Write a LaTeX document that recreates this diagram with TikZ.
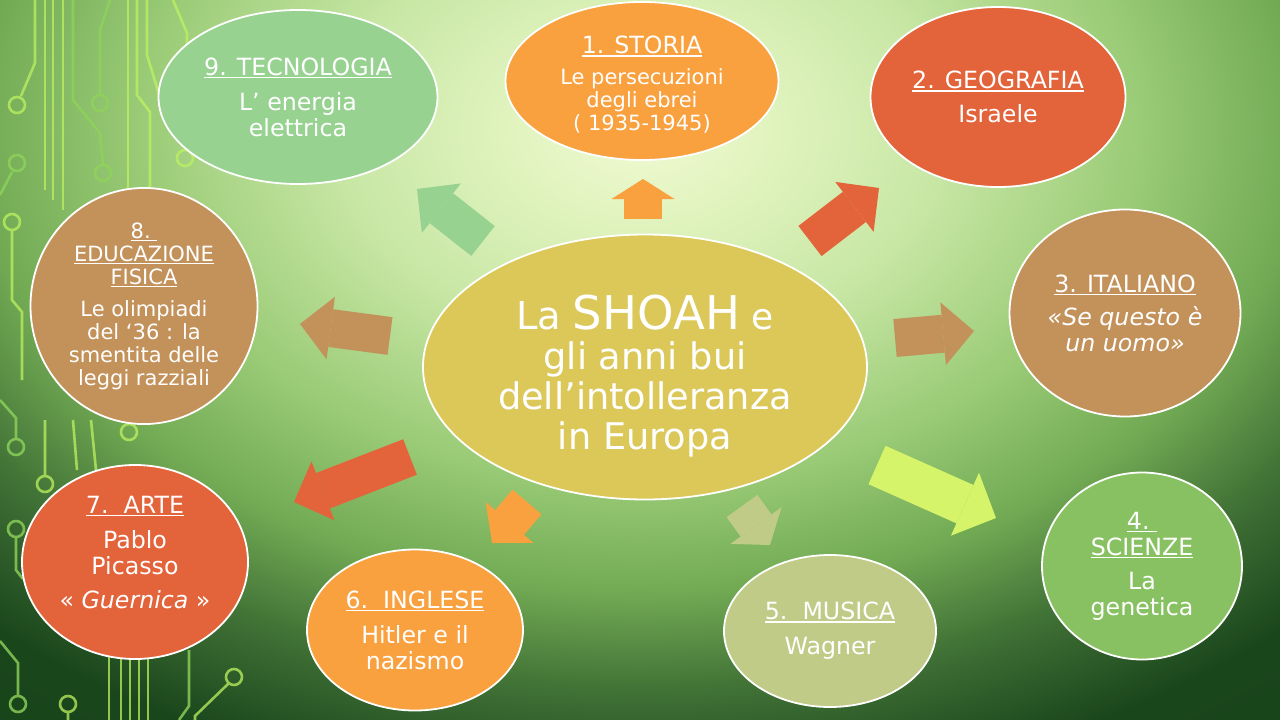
\documentclass[tikz,border=0pt]{standalone}
\usepackage{fontspec}
\setmainfont{DejaVu Sans}
\usepackage{tikz}
\usetikzlibrary{arrows.meta, shapes.geometric}

\definecolor{tecno}{HTML}{97D291}
\definecolor{arancio}{HTML}{F9A03F}
\definecolor{rosso}{HTML}{E3633A}
\definecolor{marrone}{HTML}{C3915A}
\definecolor{verdesc}{HTML}{88C162}
\definecolor{salvia}{HTML}{BFCB87}
\definecolor{senape}{HTML}{DCC858}
\definecolor{lime}{HTML}{D5F46A}
\definecolor{circuito}{HTML}{BDF260}
\definecolor{circuitob}{HTML}{8ED35A}
\definecolor{bgA}{HTML}{F0FAD2}
\definecolor{bgB}{HTML}{E2F4C0}
\definecolor{bgC}{HTML}{C8E7A5}
\definecolor{bgD}{HTML}{9ACB76}
\definecolor{bgE}{HTML}{72AA54}
\definecolor{bgF}{HTML}{417236}
\definecolor{bgG}{HTML}{1A461C}
\definecolor{bgH}{HTML}{0D3711}

\pgfdeclareradialshading{sfondo}{\pgfpoint{0bp}{0bp}}{color(0bp)=(bgA); color(3bp)=(bgB); color(7.5bp)=(bgC); color(12.5bp)=(bgD); color(16.5bp)=(bgE); color(20bp)=(bgF); color(24bp)=(bgG); color(56bp)=(bgH)}

\newcommand{\ulin}[1]{\setbox0\hbox{#1}\rlap{\rule[-3pt]{\wd0}{1.4pt}}\box0}

\begin{document}
\begin{tikzpicture}[x=1pt, y=-1pt,
    tema/.style={ellipse, draw=white, line width=1.8pt, text=white, inner sep=0pt, align=center, font=\fontsize{23.7}{26}\selectfont},
    piccolo/.style={font=\fontsize{21}{23}\selectfont},
    freccia/.style={line width=38pt, -{Triangle[width=63pt, length=31pt, line width=0pt]}},
    pista/.style={draw=circuito, line width=2.6pt, opacity=.75},
    pistab/.style={draw=circuitob, line width=2.6pt, opacity=.8}]
    \useasboundingbox (0,0) rectangle (1280,720);
    % background
    \begin{scope}
        \clip (0,0) rectangle (1280,720);
        \shade[shading=sfondo] (-360,-570) rectangle (1640,830);
    \end{scope}
    % circuit on the left
    \draw[pista] (35,0)--(35,63)--(21,96) (17,105) circle (8);
    \draw[pista] (45,0)--(45,190) (53,0)--(53,200) (128,0)--(128,200) (63,0)--(63,210);
    \draw[pistab] (73,0)--(73,100)--(100,133)--(103,164) (103,173) circle (8);
    \draw[pistab] (110,0)--(100,30)--(100,94) (100,103) circle (8);
    \draw[pista] (137,0)--(137,95)--(150,112)--(150,200) (147,0)--(147,55)--(170,130);
    \draw[pista] (173,0)--(187,33)--(186,149) (185,158) circle (8);
    \draw[pistab] (12,172)--(0,195) (17,163) circle (8);
    \draw[pista] (12,231)--(12,300)--(22,312)--(22,380) (12,222) circle (8);
    \draw[pistab] (0,400)--(16,418)--(16,438) (16,447) circle (8);
    \draw[pista] (45,420)--(45,475) (45,484) circle (8);
    \draw[pista] (129,423)--(129,400) (129,432) circle (8) (73,420)--(77,470) (91,420)--(96,470);
    \draw[pistab] (16,538)--(16,570)--(23,579) (16,529) circle (8);
    \draw[pistab] (0,641)--(18,663)--(18,695) (18,704) circle (8);
    \draw[pista] (68,713)--(68,720) (68,704) circle (8);
    \draw[pista] (109,650)--(109,720) (121,650)--(121,720) (130,650)--(130,720) (139,650)--(139,720) (148,650)--(148,720);
    \draw[pistab] (189,650)--(189,706)--(179,720);
    \draw[pista] (228,684)--(195,716)--(195,720) (234,677) circle (8);

    % themes
    \node[tema, fill=senape, minimum width=444, minimum height=265, font=\fontsize{36.7}{40}\selectfont] (shoah) at (645,367)
        {\rule{0pt}{52pt}{\fontsize{38.5}{40}\selectfont La} {\fontsize{46.5}{40}\selectfont SHOAH} {\fontsize{36}{40}\selectfont e}\\ gli anni bui\\ dell’intolleranza\\ in Europa};
    \node[tema, piccolo, fill=arancio, minimum width=273, minimum height=158] (stor) at (642,81)
        {\rule{0pt}{25pt}{\fontsize{23.7}{26}\selectfont\ulin{1. STORIA}}\\[8pt] Le persecuzioni\\ degli ebrei\\ ( 1935-1945)};
    \node[tema, fill=rosso, minimum width=255, minimum height=180] (geo) at (998,97)
        {\ulin{2. GEOGRAFIA}\\[8pt] Israele};
    \node[tema, fill=marrone, minimum width=231, minimum height=207] (ita) at (1125,313)
        {\ulin{3. ITALIANO}\\[7pt] \textit{«Se questo è}\\ \textit{un uomo»}};
    \node[tema, fill=verdesc, minimum width=200, minimum height=187] (sci) at (1142,566)
        {\ulin{4.\ }\\ \ulin{SCIENZE}\\[8pt] La\\ genetica};
    \node[tema, fill=salvia, minimum width=212, minimum height=152] (mus) at (830,631)
        {\ulin{5.\ \ MUSICA}\\[9pt] Wagner};
    \node[tema, fill=arancio, minimum width=216, minimum height=161] (ingl) at (415,630)
        {\ulin{6.\ \ INGLESE}\\[9pt] Hitler e il\\ nazismo};
    \node[tema, fill=rosso, minimum width=226, minimum height=194] (arte) at (135,562)
        {\ulin{7.\ \ ARTE}\\[9pt] Pablo\\ Picasso\\[8pt] « \textit{Guernica} »\rule[-20pt]{0pt}{0pt}};
    \node[tema, piccolo, fill=marrone, minimum width=227, minimum height=230] (edu) at (144,306)
        {\ulin{8.\ }\\ \ulin{EDUCAZIONE}\\ \ulin{FISICA}\\[9pt] Le olimpiadi\\ del ‘36 : la\\ smentita delle\\ leggi razziali};
    \node[tema, fill=tecno, minimum width=279, minimum height=174] (tecn) at (298,97)
        {\ulin{9. TECNOLOGIA}\\[9pt] L’ energia\\ elettrica};

    % arrows from the centre
    \foreach \n/\xa/\ya/\xb/\yb in {1/643/219/643/179, 2/810/241/879/188, 3/895/338/974/331,
        4/877/465/996/518, 5/742/506/770/545, 6/527/502/492/543,
        7/410/457/294/502, 8/390/336/300/324, 9/483/241/417/189}
    {
        \coordinate (coda\n) at (\xa,\ya);
        \coordinate (punta\n) at (\xb,\yb);
    }
    \draw[freccia, arancio, -{Triangle[width=63pt, length=20pt, line width=0pt]}] (coda1) -- (punta1);
    \draw[freccia, rosso] (coda2) -- (punta2);
    \draw[freccia, marrone] (coda3) -- (punta3);
    \draw[freccia, lime, line width=42pt, -{Triangle[width=69pt, length=34pt, line width=0pt]}] (coda4) -- (punta4);
    \draw[freccia, salvia, -{Triangle[width=63pt, length=24pt, line width=0pt]}] (coda5) -- (punta5);
    \draw[freccia, arancio, -{Triangle[width=63pt, length=27pt, line width=0pt]}] (coda6) -- (punta6);
    \draw[freccia, rosso] (coda7) -- (punta7);
    \draw[freccia, marrone] (coda8) -- (punta8);
    \draw[freccia, tecno] (coda9) -- (punta9);
\end{tikzpicture}
\end{document}
